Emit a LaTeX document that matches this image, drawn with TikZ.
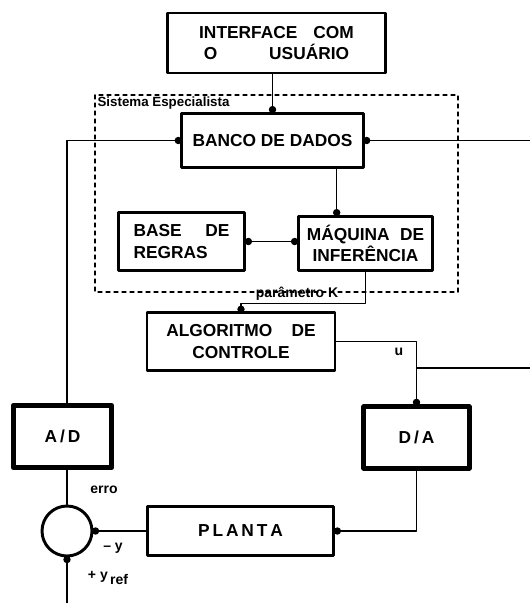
\documentclass[tikz,border=0pt]{standalone}
\usepackage{fontspec}
\setmainfont{Liberation Sans}
\usetikzlibrary{arrows.meta,calc}

\begin{document}
\begin{tikzpicture}[x=0.75pt,y=-0.75pt,font=\bfseries\fontsize{13}{16}\selectfont,line join=round,line cap=round,
	caixa/.style 2 args={draw,line width=2.2pt,minimum width=#1,minimum height=#2,align=center,inner sep=0pt},
	liga/.style={line width=1pt},
	dot/.style={liga,-{Circle[length=5.5pt]},shorten >=-1.2pt},
	rotulo/.style={font=\bfseries\fontsize{10.5}{12}\selectfont,inner sep=1pt}]
	\useasboundingbox (0,0) rectangle (530,603);
	
	\node[caixa={164pt}{45pt}] (iface) at (276.5,43) {\makebox[116pt][s]{INTERFACE\hfill COM}\\\makebox[109pt][s]{O\hfill USUÁRIO}};
	\node[caixa={136pt}{41pt}] (banco) at (272.5,140.5) {BANCO DE DADOS};
	\node[caixa={95pt}{43pt}] (base) at (181.5,241.5) {\makebox[72pt][s]{BASE\hfill DE}\\\makebox[72pt][l]{REGRAS}};
	\node[caixa={101pt}{41pt}] (maq) at (365.5,243.5) {\makebox[88pt][s]{MÁQUINA\hfill DE}\\INFERÊNCIA};
	\node[caixa={141pt}{43pt}] (algo) at (241,341.5) {\makebox[112pt][s]{ALGORITMO\hfill DE}\\CONTROLE};
	\node[caixa={74pt}{47pt},line width=3.6pt] (ad) at (62.5,436.5) {A\,/\,D};
	\node[caixa={79pt}{46pt},line width=3.6pt] (da) at (416.5,437.5) {D\,/\,A};
	\node[caixa={140pt}{37pt}] (planta) at (240.5,531) {P\,L\,A\,N\,T\,A};
	\node[draw,circle,line width=2.2pt,minimum size=37.5pt] (soma) at (67,531) {};
	
	% sistema especialista
	\draw[dashed,line width=0.8pt] (95,95) rectangle (458,292);
	\node[rotulo,anchor=south west,font=\bfseries\fontsize{10}{12}\selectfont] (sist) at (96,111) {Sistema Especialista};
	
	\coordinate (P) at ($(maq.north west)+(40,0)$);
	\coordinate (bsaida) at (530,142);
	\coordinate (usaida) at (530,368);
	\coordinate (yref) at (67,603);
	
	\draw[dot] (banco.north |- iface.south) -- (banco.north);
	\draw[dot] (banco.south -| P) -- (P);
	\draw[liga,{Circle[length=5.5pt]}-{Circle[length=5.5pt]},shorten <=-1.2pt,shorten >=-1.2pt] (base.east) -- (base.east -| maq.west);
	\draw[dot] (maq.south) -- ++(0,31) -| (algo.north);
	\draw[dot] (algo.east) -| (da.north);
	\draw[liga] (da.north |- usaida) -- (usaida);
	\draw[dot] (bsaida |- banco.east) -- (banco.east);
	\draw[dot] (ad.north -| soma) |- (banco.west);
	\draw[liga] (soma.north) -- (soma.north |- ad.south);
	\draw[dot] (da.south) |- (planta.east);
	\draw[dot] (planta.west) -- (soma.east);
	\draw[dot] (yref) -- (soma.south);
	
	\path (297,294) node[rotulo] (param) {parâmetro K};
	\path (399,352) node[rotulo] (u) {u};
	\path (104,490) node[rotulo] (erro) {erro};
	\path (113,548) node[rotulo] (y) {-- y};
	\path (108,578) node[rotulo] (ref) {+ y\raisebox{-0.7ex}{\,ref}};
\end{tikzpicture}
\end{document}
